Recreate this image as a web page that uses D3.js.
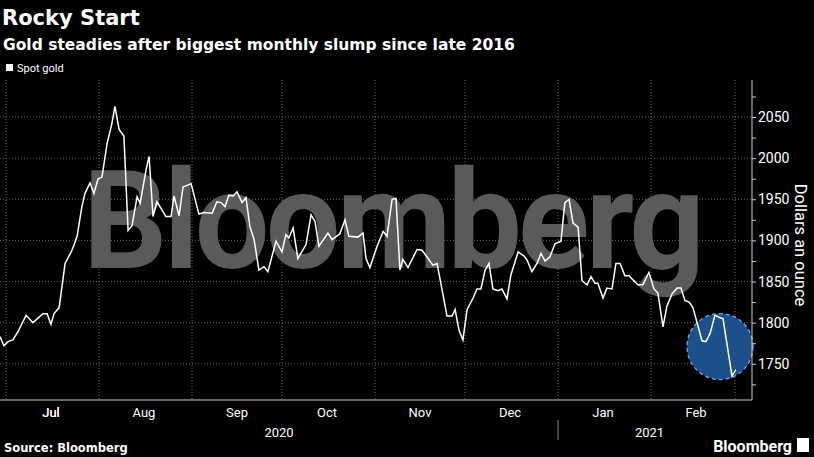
<!DOCTYPE html>
<html><head><meta charset="utf-8">
<script src="https://cdn.jsdelivr.net/npm/d3@7"></script>
<style>body{margin:0;background:#000;}svg{display:block;font-family:Roboto,"Liberation Sans",sans-serif;}</style>
</head><body><div class="chart"></div>
<script>
// days after 2020-06-29
var days = [0,1.3,2.7,4.3,6,8.7,11,14.3,15.7,17,18,19.7,21.7,24,25.7,27.3,28.3,30,31.3,32.7,34,35.7,37.3,38.3,39.7,41.3,42.7,44,45.7,46.7,48.7,49.7,51,52.3,54,55.3,57,58,59.7,61,63.7,66.3,68,70.7,72.3,73.7,75,76.3,77.7,79,80.7,82,83.3,84.7,86.3,88,89.3,92,94,95.3,96.3,97.7,99.3,102,103.7,105,106.3,109.3,110.7,113.3,115,116.3,119.3,121,122,123.3,125.7,127.7,129,130.7,132,133.3,134.3,136,139,140.7,144.3,145.7,149,150.7,151.7,153,154.3,155.7,157.7,159,160.3,161.7,163,164.3,166,167.3,169,170.3,172.7,174.7,175.7,177.3,179,180.3,181.7,183.3,185,187,187.7,188.3,189.7,191,192.7,194,195.7,197,198.3,199.3,201,202.3,204,205.3,206.7,208.3,209.7,211,212.7,214.3,216.3,218,219.3,221,222.3,224,225.7,227,228.3,229.7,231,234,235.3,236.7,238.3,240,241,244,245.3];
var gold = [1783,1772,1777,1779,1789,1809,1800,1811,1811,1798,1811,1818,1872,1888,1905,1941,1957,1970,1957,1975,1977,2018,2042,2063,2035,2027,1912,1918,1953,1945,1986,2002,1929,1947,1937,1929,1929,1954,1930,1965,1969,1932,1934,1933,1947,1946,1941,1955,1954,1959,1946,1952,1917,1901,1864,1868,1862,1899,1886,1907,1903,1915,1878,1895,1931,1923,1893,1909,1901,1908,1925,1905,1904,1909,1878,1867,1893,1911,1905,1950,1951,1864,1877,1867,1889,1888,1870,1872,1808,1808,1816,1791,1779,1816,1830,1841,1841,1864,1872,1841,1839,1841,1829,1858,1886,1881,1876,1862,1872,1884,1875,1880,1896,1899,1925,1946,1950,1921,1916,1851,1846,1856,1848,1848,1830,1842,1841,1872,1872,1857,1857,1852,1846,1846,1861,1841,1836,1795,1820,1835,1842,1842,1827,1825,1818,1778,1777,1787,1809,1806,1805,1735,1743];
var yTicks = [1750,1800,1850,1900,1950,2000,2050];
var years = [["2020","2020-06-29","2021-01-01"],["2021","2021-01-01","2021-03-03"]];

var width = 814, height = 457;
var start = new Date(2020,5,29);
var svg = d3.select(".chart").append("svg").attr("width", width).attr("height", height);

var x = d3.scaleTime().domain([start, d3.timeDay.offset(start, 247)]).range([0, 741]);
var y = d3.scaleLinear().domain([1706, 2095]).range([400, 80]);
var data = d3.zip(days, gold).map(function(d){ return {date: new Date(+start + d[0]*864e5), v: d[1]}; });

// title
svg.append("text").attr("x",2).attr("y",25).attr("fill","#fff").style("font-family","DejaVu Sans").style("font-size","21px").style("font-weight","bold").text("Rocky Start");
svg.append("text").attr("x",3).attr("y",50).attr("fill","#fff").style("font-family","DejaVu Sans").style("font-size","15.5px").style("font-weight","bold").text("Gold steadies after biggest monthly slump since late 2016");
svg.append("rect").attr("x",6).attr("y",64).attr("width",7).attr("height",7).attr("fill","#fff");
svg.append("text").attr("x",17).attr("y",72).attr("fill","#fff").style("font-size","11px").text("Spot gold");

// grid
var months = x.ticks(d3.timeMonth.every(1)).filter(function(d){ return d > start; });
svg.append("g").selectAll("line").data(months).enter().append("line")
  .attr("x1", x).attr("x2", x).attr("y1", 80).attr("y2", 400)
  .attr("stroke","#666").attr("stroke-dasharray","1,2");
svg.append("g").selectAll("line").data(yTicks).enter().append("line")
  .attr("x1", 0).attr("x2", 752).attr("y1", y).attr("y2", y)
  .attr("stroke","#666").attr("stroke-dasharray","1,2");

// watermark
svg.append("text").attr("x",392).attr("y",268).attr("text-anchor","middle").attr("fill","#5a5a5a")
  .attr("textLength",618).attr("lengthAdjust","spacingAndGlyphs")
  .style("font-size","138px").style("font-weight","bold").style("letter-spacing","-4px").text("Bloomberg");

// highlight circle
svg.append("circle").attr("cx", x(d3.timeDay.offset(start, 240))).attr("cy", y(1771)).attr("r", 33)
  .attr("fill","#1d4f8a").attr("stroke","#6fa8e8").attr("stroke-width",1.3).attr("stroke-dasharray","4,3");

svg.append("path").datum(data).attr("fill","none").attr("stroke","#fff").attr("stroke-width",1.5)
  .attr("d", d3.line().x(function(d){ return x(d.date); }).y(function(d){ return y(d.v); }));

// right axis
var ya = svg.append("g").attr("transform","translate(752,0)")
  .call(d3.axisRight(y).tickValues(d3.range(1725,2100,25)).tickSize(4).tickFormat(function(d){ return d % 50 ? "" : d; }));
ya.select(".domain").attr("stroke","#ccc").attr("d","M0,80V400");
ya.selectAll("line").attr("stroke","#ccc");
ya.selectAll("text").attr("fill","#fff").attr("x",6).style("font-size","14px").style("font-family","Roboto,sans-serif");
svg.append("text").attr("transform","translate(795,245) rotate(90)").attr("text-anchor","middle").attr("fill","#fff")
  .style("font-size","16.5px").text("Dollars an ounce");

// bottom axis
svg.append("line").attr("x1",0).attr("x2",752).attr("y1",400).attr("y2",400).attr("stroke","#ccc");
svg.append("g").selectAll("text").data(months.concat([new Date(2020,6,1)]).filter(function(d){ return d < new Date(2021,2,1); }))
  .enter().append("text")
  .attr("x", function(d){ return x(new Date(+d + 15*864e5)); }).attr("y", 417).attr("text-anchor","middle")
  .attr("fill","#fff").style("font-size","13px").text(d3.timeFormat("%b"));
svg.append("line").attr("x1",x(new Date(2021,0,1))).attr("x2",x(new Date(2021,0,1))).attr("y1",420).attr("y2",440).attr("stroke","#888");
svg.append("g").selectAll("text").data(years).enter().append("text")
  .attr("x", function(d){ return (x(new Date(d[1])) + x(new Date(d[2])))/2; }).attr("y", 437).attr("text-anchor","middle")
  .attr("fill","#fff").style("font-size","13px").text(function(d){ return d[0]; });

svg.append("text").attr("x",4).attr("y",452).attr("fill","#fff").style("font-family","DejaVu Sans").style("font-size","11.5px").style("font-weight","bold").text("Source: Bloomberg");
svg.append("text").attr("x",792).attr("y",452).attr("text-anchor","end").attr("fill","#fff").style("font-size","16px").style("font-weight","bold").text("Bloomberg");
svg.append("rect").attr("x",797).attr("y",438).attr("width",12).attr("height",14).attr("fill","#fff");
</script></body></html>
